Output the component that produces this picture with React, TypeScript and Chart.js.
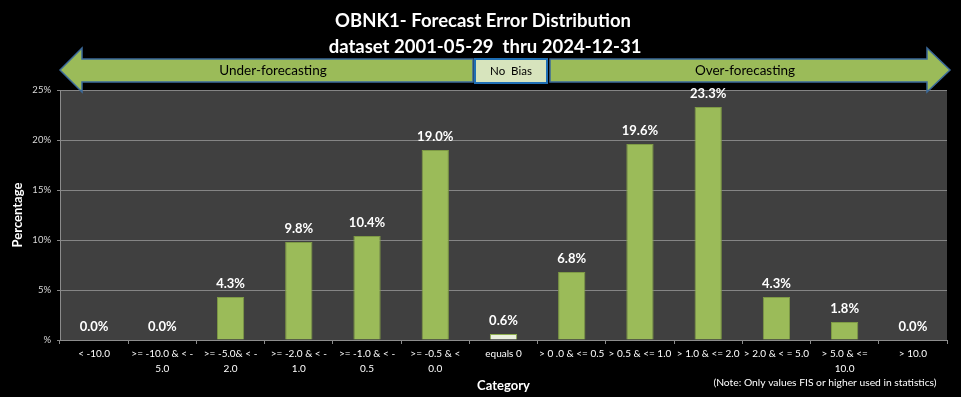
import React, { useEffect, useRef } from "react";
import { Chart, registerables } from "chart.js";

Chart.register(...registerables);

const categories: (string | string[])[] = [
  "< -10.0",
  [">= -10.0 & < -", "5.0"],
  [">= -5.0& < -", "2.0"],
  [">= -2.0 & < -", "1.0"],
  [">= -1.0 & < -", "0.5"],
  [">= -0.5 & <", "0.0"],
  "equals 0",
  "> 0 .0 & <= 0.5",
  "> 0.5 & <= 1.0",
  "> 1.0 & <= 2.0",
  "> 2.0 & < = 5.0",
  ["> 5.0 & <=", "10.0"],
  "> 10.0",
];
const percentages: number[] = [0.0, 0.0, 4.3, 9.8, 10.4, 19.0, 0.6, 6.8, 19.6, 23.3, 4.3, 1.8, 0.0];
const titleLines: string[] = ["OBNK1- Forecast Error Distribution", "dataset 2001-05-29  thru 2024-12-31"];
const yTickValues: number[] = [0, 5, 10, 15, 20, 25];
const noteText = "(Note: Only values FIS or higher used in statistics)";

const FONT = "Lato, 'Open Sans', sans-serif";
const GREEN = "#9BBB59";
const PALE = "#EBF1DE";

const decorPlugin = {
  id: "decor",
  beforeDraw(chart: any) {
    const { ctx, chartArea } = chart;
    ctx.save();
    ctx.fillStyle = "#000";
    ctx.fillRect(0, 0, chart.width, chart.height);
    ctx.fillStyle = "#404040";
    ctx.fillRect(chartArea.left, chartArea.top, chartArea.right - chartArea.left, chartArea.bottom - chartArea.top);
    ctx.restore();
  },
  afterDatasetsDraw(chart: any) {
    const { ctx } = chart;
    const meta = chart.getDatasetMeta(0);
    ctx.save();
    ctx.fillStyle = "#fff";
    ctx.font = `bold 13px ${FONT}`;
    ctx.textAlign = "center";
    ctx.textBaseline = "middle";
    meta.data.forEach((bar: any, i: number) => {
      ctx.fillText(percentages[i].toFixed(1) + "%", bar.x, bar.y - 13);
    });
    ctx.restore();
  },
  afterDraw(chart: any) {
    const { ctx } = chart;
    ctx.save();
    // title
    ctx.fillStyle = "#fff";
    ctx.font = `bold 18.5px ${FONT}`;
    ctx.textAlign = "center";
    ctx.textBaseline = "middle";
    ctx.fillText(titleLines[0], 483, 21);
    ctx.fillText(titleLines[1], 485, 47);

    // arrows
    ctx.fillStyle = GREEN;
    ctx.strokeStyle = "#3B6A9A";
    ctx.lineWidth = 1.5;
    ctx.beginPath();
    ctx.moveTo(60, 70);
    ctx.lineTo(82, 48);
    ctx.lineTo(82, 59);
    ctx.lineTo(473, 59);
    ctx.lineTo(473, 82);
    ctx.lineTo(82, 82);
    ctx.lineTo(82, 92);
    ctx.closePath();
    ctx.fill();
    ctx.stroke();

    ctx.beginPath();
    ctx.moveTo(550, 59);
    ctx.lineTo(927, 59);
    ctx.lineTo(927, 48);
    ctx.lineTo(950, 70);
    ctx.lineTo(927, 92);
    ctx.lineTo(927, 82);
    ctx.lineTo(550, 82);
    ctx.closePath();
    ctx.fill();
    ctx.stroke();

    // no bias box
    ctx.fillStyle = "#D7E4BD";
    ctx.fillRect(475, 59, 72, 24);
    ctx.strokeStyle = "#1F6FB5";
    ctx.lineWidth = 2;
    ctx.strokeRect(475, 59, 72, 24);

    ctx.fillStyle = "#000";
    ctx.font = `13.5px ${FONT}`;
    ctx.fillText("Under-forecasting", 273, 71);
    ctx.fillText("Over-forecasting", 745, 71);
    ctx.font = `11.5px ${FONT}`;
    ctx.fillText("No  Bias", 511, 71);

    // note
    ctx.fillStyle = "#fff";
    ctx.font = `10.3px ${FONT}`;
    ctx.fillText(noteText, 825, 383);
    ctx.restore();
  },
};

export default function App() {
  const ref = useRef<HTMLCanvasElement | null>(null);
  useEffect(() => {
    if (!ref.current) return;
    const chart = new Chart(ref.current, {
      type: "bar",
      data: {
        labels: categories,
        datasets: [
          {
            data: percentages,
            backgroundColor: percentages.map((_, i) => (i === 6 ? PALE : GREEN)),
            borderColor: percentages.map((_, i) => (i === 6 ? "#8FAF50" : "#7E9A45")),
            borderWidth: 1,
            barPercentage: 0.4,
            categoryPercentage: 1,
          },
        ],
      },
      plugins: [decorPlugin],
      options: {
        responsive: false,
        animation: false,
        layout: { padding: { top: 90, right: 14, left: 0, bottom: 0 } },
        plugins: { legend: { display: false }, tooltip: { enabled: false }, title: { display: false } },
        scales: {
          x: {
            grid: { drawOnChartArea: false, drawTicks: true, tickLength: 4, color: "#8C8C8C", offset: true },
            border: { color: "#8C8C8C" },
            ticks: {
              color: "#fff",
              font: { family: FONT, size: 10, lineHeight: 1.5 },
              padding: 2,
              maxRotation: 0,
              autoSkip: false,
            },
            title: {
              display: true,
              text: "Category",
              color: "#fff",
              font: { family: FONT, size: 13, weight: "bold" },
              padding: { top: 0, bottom: 3 },
            },
            afterFit(scale: any) {
              scale.height = 57;
            },
          },
          y: {
            min: 0,
            max: 25,
            afterBuildTicks(scale: any) {
              scale.ticks = yTickValues.map((v) => ({ value: v }));
            },
            grid: { color: "#858585", tickLength: 3, drawTicks: true },
            border: { color: "#8C8C8C" },
            ticks: {
              color: "#D9D9D9",
              font: { family: FONT, size: 9.5 },
              padding: 6,
              callback: (v: any) => (v === 0 ? "%" : v + "%"),
            },
            title: {
              display: true,
              text: "Percentage",
              color: "#fff",
              font: { family: FONT, size: 13, weight: "bold" },
              padding: { top: 10, bottom: 4 },
            },
            afterFit(scale: any) {
              scale.width = 60;
            },
          },
        },
      },
    });
    return () => chart.destroy();
  }, []);
  return (
    <div style={{ position: "fixed", left: 0, top: 0, width: 961, height: 397, background: "#000" }}>
      <canvas ref={ref} width={961} height={397} style={{ display: "block" }} />
    </div>
  );
}
